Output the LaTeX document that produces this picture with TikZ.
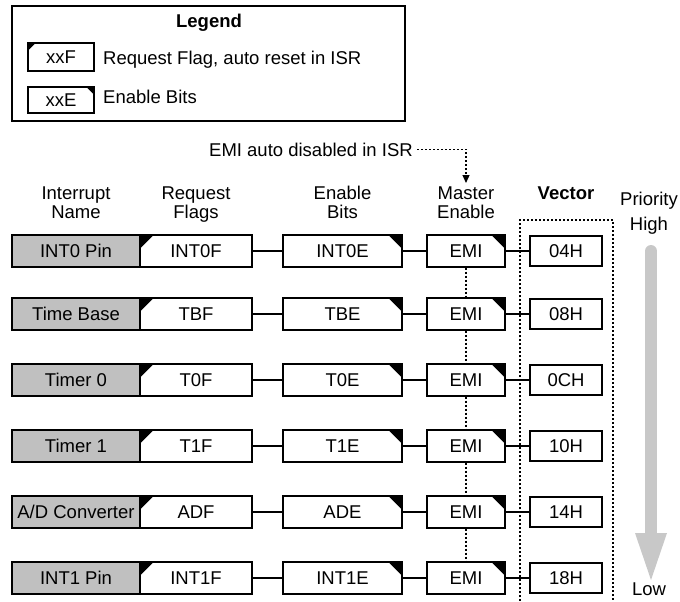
\documentclass[tikz,border=0pt]{standalone}
\usepackage{fontspec}
\setmainfont{Liberation Sans}
\usetikzlibrary{arrows.meta}
\definecolor{boxgray}{HTML}{C0C0C0}
\definecolor{arrgray}{HTML}{C8C8C8}
\newcommand{\irqrow}[6]{%
  \node[namebox] (n#1) at (76,#2) {#3};
  \node[plainbox, minimum width=112pt] (f#1) at (196,#2) {#4};
  \node[plainbox, minimum width=119pt] (e#1) at (342.5,#2) {#5};
  \node[plainbox, minimum width=78pt] (m#1) at (466,#2) {EMI};
  \node[plainbox, minimum width=72pt, minimum height=30pt] (v#1) at (566,#2) {#6};
  \draw[conn] (f#1) -- (e#1);
  \draw[conn] (e#1) -- (m#1);
  \draw[conn] (m#1) -- (v#1);
  \fill (f#1.north west) -- ++(15pt,0pt) -- ++(-15pt,-15pt) -- cycle;
  \fill (e#1.north east) -- ++(-15pt,0pt) -- ++(15pt,-15pt) -- cycle;
  \fill (m#1.north east) -- ++(-15pt,0pt) -- ++(15pt,-15pt) -- cycle;
}
\begin{document}
\begin{tikzpicture}[x=1pt,y=-1pt,
  font=\fontsize{18.5}{21}\selectfont,
  plainbox/.style={draw, line width=1.3pt, fill=white, minimum height=32pt, inner sep=0pt, text height=13.3pt, text depth=0pt},
  namebox/.style={plainbox, fill=boxgray, minimum width=128pt},
  conn/.style={line width=1.3pt},
  dotline/.style={line width=1.2pt, dash pattern=on 2pt off 2pt},
  hdr/.style={anchor=base, inner sep=0pt}]
\useasboundingbox (0,0) rectangle (680,602);
% legend
\draw[line width=1.3pt] (12,6) rectangle (405,121);
\node[hdr] (legtitle) at (209,28) {\bfseries Legend};
\node[plainbox, minimum width=66pt, minimum height=28pt] (lgf) at (61,57) {xxF};
\node[plainbox, minimum width=66pt, minimum height=26pt] (lge) at (61,100) {xxE};
\fill (lgf.north west) -- ++(9pt,0pt) -- ++(-9pt,-9pt) -- cycle;
\fill (lge.north east) -- ++(-9pt,0pt) -- ++(9pt,-9pt) -- cycle;
\node[anchor=base west, inner sep=0pt] (lgftxt) at (103,64) {Request Flag, auto reset in ISR};
\node[anchor=base west, inner sep=0pt] (lgetxt) at (103,103) {Enable Bits};
% note
\node[anchor=base east, inner ysep=0pt, inner xsep=4pt] (note) at (417,156) {EMI auto disabled in ISR};
\coordinate (notetip) at (466,183);
\draw[dotline, -{Triangle[width=7pt,length=8pt]}] (note.east) -| (notetip);
% headers
\node[hdr] (h1a) at (76,199) {Interrupt};
\node[hdr] (h1b) at (76,218) {Name};
\node[hdr] (h2a) at (196,199) {Request};
\node[hdr] (h2b) at (196,218) {Flags};
\node[hdr] (h3a) at (342.5,199) {Enable};
\node[hdr] (h3b) at (342.5,218) {Bits};
\node[hdr] (h4a) at (466,199) {Master};
\node[hdr] (h4b) at (466,218) {Enable};
\node[hdr] (h5) at (566,199) {\bfseries Vector};
\node[hdr] (h6) at (649,205) {Priority};
\node[hdr] (high) at (649,230) {High};
\node[hdr] (low) at (649,595) {Low};
% vector frame
\draw[dotline] (520,601) -- (520,220) -- (613,220) -- (613,601);
% rows
\irqrow{1}{251}{INT0 Pin}{INT0F}{INT0E}{04H}
\irqrow{2}{314}{Time Base}{TBF}{TBE}{08H}
\irqrow{3}{380}{Timer 0}{T0F}{T0E}{0CH}
\irqrow{4}{446}{Timer 1}{T1F}{T1E}{10H}
\irqrow{5}{512}{A/D Converter}{ADF}{ADE}{14H}
\irqrow{6}{578}{INT1 Pin}{INT1F}{INT1E}{18H}
% EMI chain
\draw[dotline] (m1.south) -- (m2.north);
\draw[dotline] (m2.south) -- (m3.north);
\draw[dotline] (m3.south) -- (m4.north);
\draw[dotline] (m4.south) -- (m5.north);
\draw[dotline] (m5.south) -- (m6.north);
% priority arrow
\draw[arrgray, line width=12pt, line cap=round] (651,251) -- (651,534);
\fill[arrgray] (635,533) -- (667,533) -- (651,580) -- cycle;
\end{tikzpicture}
\end{document}
